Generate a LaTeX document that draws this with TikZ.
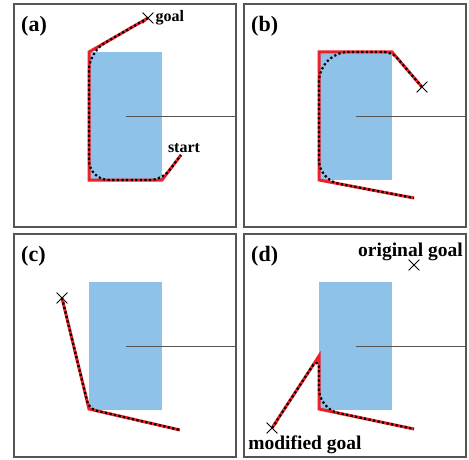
\documentclass[tikz,border=0pt]{standalone}
\usepackage{fontspec}
\setmainfont{Liberation Serif}
\usetikzlibrary{shapes.misc,positioning}
\definecolor{obstblue}{RGB}{143,194,233}
\definecolor{pathred}{RGB}{236,32,39}
\definecolor{framegray}{RGB}{85,85,85}
\tikzset{
  panel/.style ={draw=framegray,line width=1.3pt,minimum width=222pt,minimum height=223pt,
                 inner sep=0pt,outer sep=0pt},
  obst/.style  ={fill=obstblue,minimum width=73pt,minimum height=128pt,inner sep=0pt,outer sep=0pt},
  axis/.style  ={draw=framegray,line width=0.8pt},
  plan/.style  ={draw=pathred,line width=3pt,line join=miter},
  traj/.style  ={draw=black,line width=2.2pt,dash pattern=on 2.2pt off 2.4pt},
  xmark/.style ={draw,cross out,minimum size=10pt,inner sep=0pt,line width=0.8pt},
  tag/.style   ={font=\fontsize{22}{24}\selectfont\bfseries,inner sep=0pt,anchor=base west},
  lbl/.style   ={font=\fontsize{16}{18}\selectfont\bfseries,inner sep=0pt},
  biglbl/.style={font=\fontsize{19.5}{22}\selectfont\bfseries,inner sep=0pt},
}
\newcommand{\scene}[1]{%
  \node[panel] (F#1) at (111,111.5) {};
  \node[obst] (O#1) at (111.5,112) {};
  \draw[axis] (O#1.center) -- (O#1.center -| F#1.east);
}

\begin{document}
\begin{tikzpicture}[x=1pt,y=-1pt]
\useasboundingbox (0,0) rectangle (469,460);
% (a)
\begin{scope}[shift={(14,4)}]
\scene{a}
\node[tag] (La) at (7,27.5) {(a)};
\node[xmark] (Ga) at (134,14) {};
\node[lbl,right=2pt of Ga] (Ta) {goal};
\coordinate (A1) at (75,48); \coordinate (A2) at (75,176);
\coordinate (A3) at (148,176); \coordinate (Sa) at (167,151);
\node[lbl,anchor=base] (Ua) at (170,148) {start};
\draw[plan] (Ga.center) -- (A1) -- (A2) -- (A3) -- (Sa);
\draw[traj] (Ga.center) [rounded corners=18pt] -- (A1) [rounded corners=20pt] -- (A2)
  [rounded corners=12pt] -- (A3) -- (Sa);
\end{scope}
% (b)
\begin{scope}[shift={(244,4)}]
\scene{b}
\node[tag] (Lb) at (7,27.5) {(b)};
\node[xmark] (Gb) at (178,83) {};
\coordinate (B1) at (148,48); \coordinate (B2) at (75,48);
\coordinate (B3) at (75,176); \coordinate (Eb) at (170,194);
\draw[plan] (Gb.center) -- (B1) -- (B2) -- (B3) -- (Eb);
\draw[traj] (Gb.center) [rounded corners=8pt] -- (B1) [rounded corners=30pt] -- (B2)
  [rounded corners=20pt] -- (B3) -- (Eb);
\end{scope}
% (c)
\begin{scope}[shift={(14,234)}]
\scene{c}
\node[tag] (Lc) at (7,27.5) {(c)};
\node[xmark] (Gc) at (48,64) {};
\coordinate (C1) at (75,175); \coordinate (Ec) at (166,196);
\draw[plan] (Gc.center) -- (C1) -- (Ec);
\draw[traj,rounded corners=8pt] (Gc.center) -- (C1) -- (Ec);
\end{scope}
% (d)
\begin{scope}[shift={(244,234)}]
\scene{d}
\node[tag] (Ld) at (7,27.5) {(d)};
\node[xmark] (Od) at (170,31) {};
\node[biglbl,anchor=base] (To) at (166.5,22) {original goal};
\node[xmark] (Md) at (28,194) {};
\node[biglbl,anchor=base] (Tm) at (61,215) {modified goal};
\coordinate (D1) at (75,122); \coordinate (D2) at (75,175); \coordinate (Ed) at (170,195);
\draw[plan] (Md.center) -- (D1) -- (D2) -- (Ed);
\draw[traj] (Md.center) [rounded corners=13pt] -- (D1) [rounded corners=20pt] -- (D2) -- (Ed);
\end{scope}
\end{tikzpicture}
\end{document}
